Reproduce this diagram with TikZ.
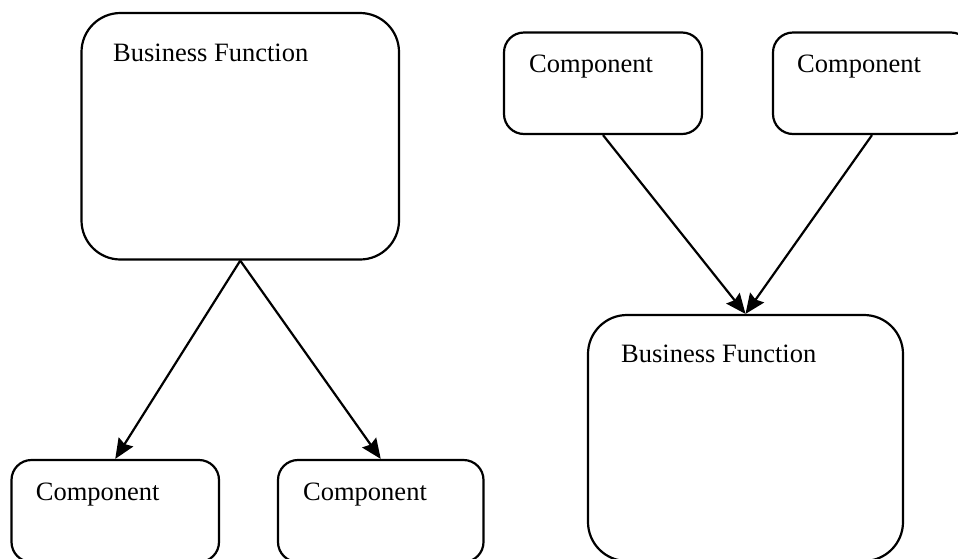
\documentclass[tikz,border=0pt]{standalone}
\usepackage{fontspec}
\setmainfont{Liberation Serif}
\usetikzlibrary{arrows.meta}
\begin{document}
\begin{tikzpicture}[x=1pt,y=-1pt,
  box/.style={draw=black, line width=2.2pt, rectangle, inner sep=0pt},
  bigbox/.style={box, rounded corners=39pt},
  smallbox/.style={box, rounded corners=20pt},
  lbl/.style={anchor=base west, inner sep=0pt, font=\fontsize{26.5}{30}\selectfont},
  conn/.style={line width=2.2pt, -{Stealth[length=20pt,width=17pt,inset=2.5pt]}}
]
\useasboundingbox (0,0) rectangle (958,558);
\clip (0,0) rectangle (958,558);
\fill[white] (0,0) rectangle (958,558);
% left side
\node[bigbox, minimum width=317.5pt, minimum height=246.5pt] (bf1) at (240.25,136.25) {};
\node[lbl] (bf1t) at (113,61) {Business Function};
\node[smallbox, minimum width=207.5pt, minimum height=102pt] (c1) at (115.25,511) {};
\node[lbl] (c1t) at (35.7,500) {Component};
\node[smallbox, minimum width=205.5pt, minimum height=102pt] (c2) at (380.75,511) {};
\node[lbl] (c2t) at (303,500) {Component};
% right side
\node[smallbox, minimum width=198pt, minimum height=101.5pt] (c3) at (603,83.25) {};
\node[lbl] (c3t) at (529,72) {Component};
\node[smallbox, minimum width=198pt, minimum height=101.5pt] (c4) at (872,83.25) {};
\node[lbl] (c4t) at (797,72) {Component};
\node[bigbox, minimum width=315pt, minimum height=246pt] (bf2) at (745.5,438) {};
\node[lbl] (bf2t) at (621,362) {Business Function};
% connectors
\draw[conn] (bf1.south) -- (c1.north);
\draw[conn] (bf1.south) -- (c2.north);
\draw[conn] (c3.south) -- (bf2.north);
\draw[conn] (c4.south) -- (bf2.north);
\end{tikzpicture}
\end{document}
